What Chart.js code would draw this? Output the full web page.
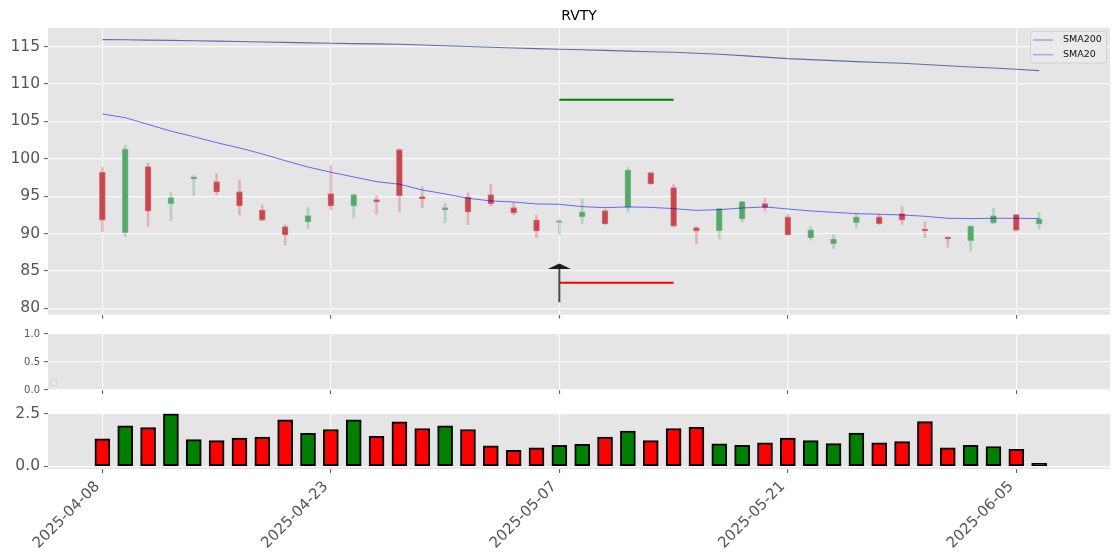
<!DOCTYPE html>
<html><head><meta charset="utf-8">
<script src="https://cdn.jsdelivr.net/npm/chart.js@4.4.1/dist/chart.umd.min.js"></script>
<style>
html,body{margin:0;padding:0;background:#fff;width:1120px;height:560px;overflow:hidden;}
canvas{position:absolute;left:0;}
</style></head><body>
<canvas id="c1" width="1120" height="330" style="top:0px"></canvas>
<canvas id="c2" width="1120" height="78" style="top:322px"></canvas>
<canvas id="c3" width="1120" height="160" style="top:400px"></canvas>
<script>
const chartTitle = 'RVTY';
const dates = ['2025-04-08','2025-04-09','2025-04-10','2025-04-11','2025-04-14','2025-04-15','2025-04-16','2025-04-17','2025-04-21','2025-04-22',
 '2025-04-23','2025-04-24','2025-04-25','2025-04-28','2025-04-29','2025-04-30','2025-05-01','2025-05-02','2025-05-05','2025-05-06',
 '2025-05-07','2025-05-08','2025-05-09','2025-05-12','2025-05-13','2025-05-14','2025-05-15','2025-05-16','2025-05-19','2025-05-20',
 '2025-05-21','2025-05-22','2025-05-23','2025-05-27','2025-05-28','2025-05-29','2025-05-30','2025-06-02','2025-06-03','2025-06-04',
 '2025-06-05','2025-06-06'];
const openP  = [98.2,90.1,98.95,94.0,97.3,96.94,95.6,93.15,90.92,91.55,95.33,93.7,94.53,101.22,94.93,93.15,94.89,95.2,93.46,91.81,91.5,92.22,93.06,93.51,98.14,96.14,90.78,90.38,91.95,94.0,92.22,89.41,88.65,91.45,92.22,92.66,90.6,89.54,89.05,91.41,92.53,91.28];
const highP  = [98.9,101.85,99.44,95.47,97.84,98.0,97.2,93.82,91.15,93.46,99.08,95.3,95.07,101.3,96.27,94.0,95.47,96.54,94.22,92.48,91.9,94.62,93.2,98.81,98.2,96.54,90.9,93.4,94.3,94.67,92.58,90.92,89.81,92.7,92.58,93.6,91.59,89.6,91.05,93.38,92.6,92.8];
const lowP   = [90.25,89.6,91.0,91.68,95.03,95.16,92.48,91.72,88.47,90.7,93.2,92.08,92.62,92.89,93.46,91.45,91.19,93.7,92.48,89.45,89.85,91.28,91.2,92.89,96.55,90.9,88.6,89.27,91.55,93.02,89.75,89.15,87.94,90.75,91.2,91.15,89.45,88.2,87.67,91.3,90.3,90.62];
const closeP = [91.8,101.3,93.0,94.8,97.6,95.56,93.7,91.8,89.8,92.4,93.7,95.2,94.22,95.07,94.62,93.46,92.89,94.0,92.75,90.34,91.68,92.89,91.28,98.5,96.63,91.0,90.34,93.33,94.27,93.46,89.81,90.48,89.27,92.22,91.32,91.81,90.34,89.27,91.0,92.4,90.43,91.95];
const volume = [1.31,1.93,1.84,2.50,1.27,1.22,1.34,1.39,2.21,1.57,1.75,2.21,1.43,2.12,1.80,1.93,1.75,0.97,0.76,0.88,0.99,1.04,1.39,1.68,1.22,1.80,1.86,1.07,0.99,1.11,1.34,1.22,1.08,1.58,1.11,1.17,2.13,0.88,0.99,0.94,0.81,0.13];
const sma20  = [106.0,105.5,104.6,103.7,102.96,102.16,101.45,100.65,99.75,98.9,98.2,97.57,96.94,96.6,95.83,95.3,94.72,94.36,94.22,93.96,93.91,93.6,93.46,93.56,93.5,93.33,93.1,93.2,93.42,93.56,93.29,93.02,92.84,92.66,92.58,92.48,92.31,92.04,92.0,92.04,92.04,92.0];
const sma200 = [115.95,115.92,115.88,115.84,115.80,115.74,115.69,115.63,115.57,115.51,115.45,115.41,115.37,115.32,115.22,115.12,115.02,114.93,114.83,114.74,114.65,114.58,114.50,114.41,114.33,114.25,114.12,113.98,113.80,113.60,113.40,113.27,113.13,113.0,112.88,112.78,112.62,112.45,112.28,112.15,111.98,111.80];
const signalIdx = 20, signalEndIdx = 25;
const targetPrice = 107.9, stopPrice = 83.43;
const arrowTail = 80.8, arrowTip = 86.0;
const xTickIdx = [0,10,20,30,40];
const priceTicks = [80,85,90,95,100,105,110,115];
const volTicks = [0,2.5];
const emptyTicks = [0,0.5,1];
const seriesNames = ['SMA200','SMA20'];

const FONT = "'DejaVu Sans', sans-serif";
const BG = '#E5E5E5';
const UP = '#55a868', DOWN = '#c8474d';
const idx = dates.map((d,i)=>i);

const bgPlugin = {id:'bg', beforeDraw(chart){const {ctx, chartArea:a}=chart; ctx.save(); ctx.fillStyle=BG; ctx.fillRect(a.left,a.top,a.right-a.left,a.bottom-a.top); ctx.restore();}};

function xScale(showLabels, h){
  return {type:'linear', min:-2.38, max:44.1, bounds:'data', offset:false,
    afterBuildTicks: s => { s.ticks = xTickIdx.map(v=>({value:v})); },
    afterFit: s => { s.height = h; },
    grid:{offset:false, color:'rgba(255,255,255,0.85)', lineWidth:1.2, tickColor:'#555', tickLength:4, tickWidth:1},
    border:{display:false},
    ticks:{display:showLabels, autoSkip:false, maxRotation:45, minRotation:45, padding:5, labelOffset:-5,
      color:'#555', font:{family:FONT, size:15}, callback:(v)=>dates[v]}
  };
}
function yScale(min,max,tickArr,fontSize,fmt){
  return {type:'linear', min:min, max:max, bounds:'data', beginAtZero:false,
    afterBuildTicks: s => { s.ticks = tickArr.map(v=>({value:v})); },
    afterFit: s => { s.width = 48; },
    grid:{color:'rgba(255,255,255,0.85)', lineWidth:1.2, tickColor:'#555', tickLength:4, tickWidth:1},
    border:{display:false},
    ticks:{color:'#555', padding:4, font:{family:FONT, size:fontSize}, callback:fmt}
  };
}
const common = {responsive:false, animation:false, events:[], devicePixelRatio:1,
  plugins:{legend:{display:false}, tooltip:{enabled:false}, title:{display:false}}};

// ---------- main price panel ----------
const titlePlugin = {id:'ttl', afterDraw(chart){const {ctx, chartArea:a}=chart; ctx.save(); ctx.fillStyle='#000'; ctx.font='14px '+FONT; ctx.textAlign='center'; ctx.textBaseline='middle'; ctx.fillText(chartTitle,(a.left+a.right)/2,16); ctx.restore();}};
const arrowPlugin = {id:'arrow', afterDatasetsDraw(chart){
  const {ctx} = chart; const xs = chart.scales.x, ys = chart.scales.y;
  const x = xs.getPixelForValue(signalIdx), yTip = ys.getPixelForValue(arrowTip), yTail = ys.getPixelForValue(arrowTail);
  ctx.save();
  ctx.strokeStyle='#4a4a4a'; ctx.lineWidth=2; ctx.beginPath(); ctx.moveTo(x,yTail); ctx.lineTo(x,yTip+4); ctx.stroke();
  ctx.fillStyle='#1c1c1c'; ctx.beginPath(); ctx.moveTo(x,yTip); ctx.lineTo(x+11.5,yTip+5.5); ctx.lineTo(x-11.5,yTip+5.5); ctx.closePath(); ctx.fill();
  ctx.restore();
}};
const legendPlugin = {id:'lg', afterDraw(chart){
  const {ctx, chartArea:a} = chart;
  const r = a.right-4, l = r-76, t = a.top+3, b = t+31.5;
  ctx.save();
  ctx.fillStyle='rgba(234,234,234,0.9)'; ctx.strokeStyle='#d2d2d2'; ctx.lineWidth=1;
  ctx.beginPath(); ctx.roundRect(l+0.5,t+0.5,r-l,b-t,3); ctx.fill(); ctx.stroke();
  const cols = ['rgba(60,60,160,0.4)','rgba(40,40,240,0.35)'];
  seriesNames.forEach((n,k)=>{
    const y = t+9+k*14.7;
    ctx.strokeStyle=cols[k]; ctx.lineWidth=1.5; ctx.beginPath(); ctx.moveTo(l+3,y); ctx.lineTo(l+23,y); ctx.stroke();
    ctx.fillStyle='#111'; ctx.font='9.5px '+FONT; ctx.textAlign='left'; ctx.textBaseline='middle'; ctx.fillText(n,l+33,y);
  });
  ctx.restore();
}};
const candleColor = idx.map(i => closeP[i] >= openP[i] ? UP : DOWN);
const wickColor = idx.map(i => closeP[i] >= openP[i] ? 'rgba(70,160,90,0.3)' : 'rgba(200,70,80,0.3)');

new Chart(document.getElementById('c1'), {
  type:'bar',
  data:{datasets:[
    {type:'line', label:'SMA200', data:idx.map(i=>({x:i,y:sma200[i]})), borderColor:'rgba(0,0,128,0.55)', borderWidth:1.1, pointRadius:0, order:0},
    {type:'line', label:'SMA20', data:idx.map(i=>({x:i,y:sma20[i]})), borderColor:'rgba(0,0,255,0.55)', borderWidth:1, pointRadius:0, order:0},
    {type:'line', label:'Target', data:[{x:signalIdx,y:targetPrice},{x:signalEndIdx,y:targetPrice}], borderColor:'#008000', borderWidth:2, pointRadius:0, order:0},
    {type:'line', label:'Stop', data:[{x:signalIdx,y:stopPrice},{x:signalEndIdx,y:stopPrice}], borderColor:'#ff0000', borderWidth:2, pointRadius:0, order:0},
    {label:'body', data:idx.map(i=>({x:i,y:[openP[i],closeP[i]]})), backgroundColor:candleColor, borderColor:candleColor.map(c=>c+'99'), borderWidth:0.8, borderSkipped:false, barThickness:6, grouped:false, order:1},
    {label:'wick', data:idx.map(i=>({x:i,y:[lowP[i],highP[i]]})), backgroundColor:wickColor, borderWidth:0, barThickness:2, grouped:false, order:2}
  ]},
  options:Object.assign({}, common, {
    layout:{padding:{top:28,right:10,left:0,bottom:0}},
    scales:{ x:xScale(false,15.3), y:yScale(79.14,117.5,priceTicks,15.5,v=>String(v)) }
  }),
  plugins:[bgPlugin, titlePlugin, arrowPlugin, legendPlugin]
});

// ---------- empty middle panel ----------
const emptyLegendPlugin = {id:'elg', afterDraw(chart){const {ctx, chartArea:a}=chart; ctx.save(); ctx.strokeStyle='#d4d4d4'; ctx.lineWidth=1; ctx.beginPath(); ctx.roundRect(a.left+2.5,a.bottom-10.5,6,6,1); ctx.stroke(); ctx.restore();}};
new Chart(document.getElementById('c2'), {
  type:'line',
  data:{datasets:[]},
  options:Object.assign({}, common, {
    layout:{padding:{top:12,right:10,left:0,bottom:0}},
    scales:{ x:xScale(false,8.3), y:yScale(0,1,emptyTicks,10,v=>v.toFixed(1)) }
  }),
  plugins:[bgPlugin, emptyLegendPlugin]
});

// ---------- volume panel ----------
const last = dates.length-1;
const volColor = idx.map(i => i===last ? '#000000' : (closeP[i] >= openP[i] ? '#008000' : '#ff0000'));
new Chart(document.getElementById('c3'), {
  type:'bar',
  data:{datasets:[
    {label:'Volume', data:idx.map(i=>({x:i,y:volume[i]})), backgroundColor:volColor, borderColor:'#000', borderWidth:2, borderSkipped:false, barThickness:15, grouped:false}
  ]},
  options:Object.assign({}, common, {
    layout:{padding:{top:10.7,right:10,left:0,bottom:0}},
    scales:{ x:xScale(true,91), y:yScale(-0.135,2.525,volTicks,15.5,v=>v.toFixed(1)) }
  }),
  plugins:[bgPlugin]
});
</script>
</body></html>
